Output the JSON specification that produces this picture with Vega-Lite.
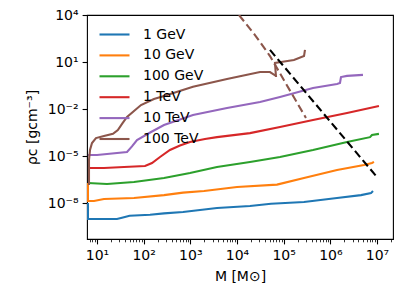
{
  "$schema": "https://vega.github.io/schema/vega-lite/v6.json",
  "width": 306,
  "height": 224,
  "autosize": {"type": "none"},
  "padding": {"left": 87, "top": 15, "right": 15, "bottom": 67},
  "config": {
    "font": "DejaVu Sans",
    "view": {"stroke": "#000000", "strokeWidth": 1.1},
    "axis": {"grid": false, "domain": false, "tickColor": "#000000", "tickWidth": 1.1, "labelColor": "#000000", "titleColor": "#000000", "labelFont": "DejaVu Sans", "titleFont": "DejaVu Sans", "labelFontSize": 14, "titleFontSize": 14, "titleFontWeight": "normal", "labelFlush": false, "labelOverlap": false}
  },
  "datasets": {
    "series": [
      {"s": "1 GeV", "i": 0, "M": 6.41, "rho": 1.0e-8},
      {"s": "1 GeV", "i": 1, "M": 6.41, "rho": 9.5e-10},
      {"s": "1 GeV", "i": 2, "M": 8.63, "rho": 9.5e-10},
      {"s": "1 GeV", "i": 3, "M": 26.8, "rho": 9.6e-10},
      {"s": "1 GeV", "i": 4, "M": 36, "rho": 1.2e-9},
      {"s": "1 GeV", "i": 5, "M": 50, "rho": 1.55e-9},
      {"s": "1 GeV", "i": 6, "M": 137, "rho": 1.8e-9},
      {"s": "1 GeV", "i": 7, "M": 273, "rho": 2.2e-9},
      {"s": "1 GeV", "i": 8, "M": 697, "rho": 2.7e-9},
      {"s": "1 GeV", "i": 9, "M": 3725, "rho": 4.8e-9},
      {"s": "1 GeV", "i": 10, "M": 18970, "rho": 6.4e-9},
      {"s": "1 GeV", "i": 11, "M": 53500, "rho": 9.0e-9},
      {"s": "1 GeV", "i": 12, "M": 272000, "rho": 1.17e-8},
      {"s": "1 GeV", "i": 13, "M": 1390000, "rho": 2.1e-8},
      {"s": "1 GeV", "i": 14, "M": 4540000, "rho": 3.2e-8},
      {"s": "1 GeV", "i": 15, "M": 7430000, "rho": 4.3e-8},
      {"s": "1 GeV", "i": 16, "M": 8200000, "rho": 5.9e-8},

      {"s": "10 GeV", "i": 0, "M": 6.41, "rho": 1.9e-7},
      {"s": "10 GeV", "i": 1, "M": 6.41, "rho": 1.35e-8},
      {"s": "10 GeV", "i": 2, "M": 8.63, "rho": 1.35e-8},
      {"s": "10 GeV", "i": 3, "M": 14.1, "rho": 1.8e-8},
      {"s": "10 GeV", "i": 4, "M": 62, "rho": 2.1e-8},
      {"s": "10 GeV", "i": 5, "M": 273, "rho": 3.2e-8},
      {"s": "10 GeV", "i": 6, "M": 697, "rho": 4.6e-8},
      {"s": "10 GeV", "i": 7, "M": 1963, "rho": 5.9e-8},
      {"s": "10 GeV", "i": 8, "M": 10000, "rho": 1.05e-7},
      {"s": "10 GeV", "i": 9, "M": 71900, "rho": 1.5e-7},
      {"s": "10 GeV", "i": 10, "M": 272000, "rho": 4.0e-7},
      {"s": "10 GeV", "i": 11, "M": 1390000, "rho": 1.3e-6},
      {"s": "10 GeV", "i": 12, "M": 5260000, "rho": 2.7e-6},
      {"s": "10 GeV", "i": 13, "M": 7800000, "rho": 3.6e-6},
      {"s": "10 GeV", "i": 14, "M": 8600000, "rho": 4.2e-6},

      {"s": "100 GeV", "i": 0, "M": 6.41, "rho": 1.9e-7},
      {"s": "100 GeV", "i": 1, "M": 16.4, "rho": 1.65e-7},
      {"s": "100 GeV", "i": 2, "M": 62, "rho": 2.2e-7},
      {"s": "100 GeV", "i": 3, "M": 273, "rho": 4.0e-7},
      {"s": "100 GeV", "i": 4, "M": 984, "rho": 8.3e-7},
      {"s": "100 GeV", "i": 5, "M": 3725, "rho": 2.0e-6},
      {"s": "100 GeV", "i": 6, "M": 18970, "rho": 4.2e-6},
      {"s": "100 GeV", "i": 7, "M": 83400, "rho": 8.7e-6},
      {"s": "100 GeV", "i": 8, "M": 425000, "rho": 2.4e-5},
      {"s": "100 GeV", "i": 9, "M": 2280000, "rho": 7.9e-5},
      {"s": "100 GeV", "i": 10, "M": 7080000, "rho": 1.6e-4},
      {"s": "100 GeV", "i": 11, "M": 7800000, "rho": 2.2e-4},
      {"s": "100 GeV", "i": 12, "M": 11000000, "rho": 2.6e-4},

      {"s": "1 TeV", "i": 0, "M": 6.41, "rho": 1.74e-6},
      {"s": "1 TeV", "i": 1, "M": 14.1, "rho": 1.74e-6},
      {"s": "1 TeV", "i": 2, "M": 37.9, "rho": 2.0e-6},
      {"s": "1 TeV", "i": 3, "M": 107, "rho": 2.31e-6},
      {"s": "1 TeV", "i": 4, "M": 151, "rho": 3.59e-6},
      {"s": "1 TeV", "i": 5, "M": 224, "rho": 8.7e-6},
      {"s": "1 TeV", "i": 6, "M": 366, "rho": 2.43e-5},
      {"s": "1 TeV", "i": 7, "M": 600, "rho": 4.7e-5},
      {"s": "1 TeV", "i": 8, "M": 984, "rho": 7.85e-5},
      {"s": "1 TeV", "i": 9, "M": 2060, "rho": 1.22e-4},
      {"s": "1 TeV", "i": 10, "M": 3725, "rho": 1.6e-4},
      {"s": "1 TeV", "i": 11, "M": 18970, "rho": 2.9e-4},
      {"s": "1 TeV", "i": 12, "M": 83400, "rho": 7.1e-4},
      {"s": "1 TeV", "i": 13, "M": 425000, "rho": 2.0e-3},
      {"s": "1 TeV", "i": 14, "M": 2280000, "rho": 5.6e-3},
      {"s": "1 TeV", "i": 15, "M": 11000000, "rho": 1.55e-2},

      {"s": "10 TeV", "i": 0, "M": 6.41, "rho": 1.17e-5},
      {"s": "10 TeV", "i": 1, "M": 10, "rho": 1.17e-5},
      {"s": "10 TeV", "i": 2, "M": 44, "rho": 1.8e-5},
      {"s": "10 TeV", "i": 3, "M": 56.2, "rho": 4.1e-5},
      {"s": "10 TeV", "i": 4, "M": 72, "rho": 1.05e-4},
      {"s": "10 TeV", "i": 5, "M": 144, "rho": 3.4e-4},
      {"s": "10 TeV", "i": 6, "M": 273, "rho": 9.5e-4},
      {"s": "10 TeV", "i": 7, "M": 1140, "rho": 4.2e-3},
      {"s": "10 TeV", "i": 8, "M": 6110, "rho": 1.15e-2},
      {"s": "10 TeV", "i": 9, "M": 31100, "rho": 2.8e-2},
      {"s": "10 TeV", "i": 10, "M": 83400, "rho": 5.9e-2},
      {"s": "10 TeV", "i": 11, "M": 425000, "rho": 0.22},
      {"s": "10 TeV", "i": 12, "M": 1390000, "rho": 0.40},
      {"s": "10 TeV", "i": 13, "M": 1610000, "rho": 0.46},
      {"s": "10 TeV", "i": 14, "M": 1690000, "rho": 1.1},
      {"s": "10 TeV", "i": 15, "M": 2280000, "rho": 1.3},
      {"s": "10 TeV", "i": 16, "M": 5000000, "rho": 1.5},

      {"s": "100 TeV", "i": 0, "M": 6.74, "rho": 1.4e-7},
      {"s": "100 TeV", "i": 1, "M": 6.74, "rho": 5.6e-6},
      {"s": "100 TeV", "i": 2, "M": 7.08, "rho": 2.4e-5},
      {"s": "100 TeV", "i": 3, "M": 7.82, "rho": 6.8e-5},
      {"s": "100 TeV", "i": 4, "M": 9.5, "rho": 1.4e-4},
      {"s": "100 TeV", "i": 5, "M": 14.1, "rho": 1.9e-4},
      {"s": "100 TeV", "i": 6, "M": 22, "rho": 2.6e-4},
      {"s": "100 TeV", "i": 7, "M": 28, "rho": 4.5e-4},
      {"s": "100 TeV", "i": 8, "M": 35, "rho": 1.2e-3},
      {"s": "100 TeV", "i": 9, "M": 44, "rho": 3.1e-3},
      {"s": "100 TeV", "i": 10, "M": 87.7, "rho": 1.8e-2},
      {"s": "100 TeV", "i": 11, "M": 166, "rho": 4.4e-2},
      {"s": "100 TeV", "i": 12, "M": 273, "rho": 6.8e-2},
      {"s": "100 TeV", "i": 13, "M": 1140, "rho": 0.26},
      {"s": "100 TeV", "i": 14, "M": 6110, "rho": 0.83},
      {"s": "100 TeV", "i": 15, "M": 31100, "rho": 2.3},
      {"s": "100 TeV", "i": 16, "M": 50900, "rho": 2.3},
      {"s": "100 TeV", "i": 17, "M": 68500, "rho": 1.28},
      {"s": "100 TeV", "i": 18, "M": 68500, "rho": 1.1},
      {"s": "100 TeV", "i": 19, "M": 65200, "rho": 8.7},
      {"s": "100 TeV", "i": 20, "M": 87700, "rho": 10},
      {"s": "100 TeV", "i": 21, "M": 166000, "rho": 13.4},
      {"s": "100 TeV", "i": 22, "M": 273000, "rho": 24},
      {"s": "100 TeV", "i": 23, "M": 286000, "rho": 59}
    ],
    "browndash": [
      {"M": 11030, "rho": 10000},
      {"M": 24300, "rho": 525},
      {"M": 50900, "rho": 24},
      {"M": 107000, "rho": 0.52},
      {"M": 300000, "rho": 0.0027}
    ],
    "blackdash": [
      {"M": 50900, "rho": 59},
      {"M": 9500000, "rho": 5.4e-7}
    ],
    "minor": [
      {"M": 7}, {"M": 8}, {"M": 9}
    ]
  },
  "resolve": {"axis": {"x": "independent"}},
  "layer": [
    {
      "data": {"name": "series"},
      "mark": {"type": "line", "strokeWidth": 2.1, "clip": true},
      "encoding": {
        "x": {"field": "M", "type": "quantitative",
          "scale": {"type": "log", "domain": [6.11, 22000000], "nice": false},
          "axis": {"orient": "bottom", "values": [10, 100, 1000, 10000, 100000, 1000000, 10000000], "tickSize": 4.9, "labelPadding": 5,
            "labelExpr": "'10' + ['⁰','¹','²','³','⁴','⁵','⁶','⁷','⁸','⁹'][round(log(datum.value)/LN10)]",
            "title": "M [M⊙]", "titleY": 41, "titleBaseline": "alphabetic"}},
        "y": {"field": "rho", "type": "quantitative",
          "scale": {"type": "log", "domain": [5.07e-11, 10000], "nice": false},
          "axis": {"values": [1e-8, 1e-5, 0.01, 10, 10000], "tickSize": 4.9, "labelPadding": 4,
            "labelExpr": "'10' + (round(log(datum.value)/LN10) < 0 ? '⁻' : '') + ['⁰','¹','²','³','⁴','⁵','⁶','⁷','⁸','⁹'][abs(round(log(datum.value)/LN10))]",
            "title": "ρc [gcm⁻³]", "titleX": -51, "titleBaseline": "alphabetic"}},
        "color": {"field": "s", "type": "nominal",
          "scale": {"domain": ["1 GeV", "10 GeV", "100 GeV", "1 TeV", "10 TeV", "100 TeV"],
            "range": ["#1f77b4", "#ff7f0e", "#2ca02c", "#d62728", "#9467bd", "#8c564b"]},
          "legend": {"orient": "none", "legendX": 16, "legendY": 8, "title": null, "padding": 0,
            "symbolType": "M-1.5,0L1.5,0", "symbolSize": 400, "symbolStrokeWidth": 2.1,
            "labelFontSize": 14, "labelFont": "DejaVu Sans", "labelColor": "#000000", "labelOffset": 17, "rowPadding": 1.9}},
        "order": {"field": "i", "type": "quantitative"}
      }
    },
    {
      "data": {"name": "browndash"},
      "mark": {"type": "line", "color": "#8c564b", "strokeWidth": 2.1, "strokeDash": [8, 4], "clip": true},
      "encoding": {
        "x": {"field": "M", "type": "quantitative", "axis": null},
        "y": {"field": "rho", "type": "quantitative"}
      }
    },
    {
      "data": {"name": "blackdash"},
      "mark": {"type": "line", "color": "#000000", "strokeWidth": 2.1, "strokeDash": [8, 4], "clip": true},
      "encoding": {
        "x": {"field": "M", "type": "quantitative", "axis": null},
        "y": {"field": "rho", "type": "quantitative"}
      }
    },
    {
      "data": {"name": "minor"},
      "mark": {"type": "point", "opacity": 0},
      "encoding": {
        "x": {"field": "M", "type": "quantitative",
          "axis": {"orient": "bottom", "title": null, "labels": false, "tickSize": 2.8, "tickWidth": 0.8,
            "values": [7, 8, 9, 20, 30, 40, 50, 60, 70, 80, 90, 200, 300, 400, 500, 600, 700, 800, 900, 2000, 3000, 4000, 5000, 6000, 7000, 8000, 9000, 20000, 30000, 40000, 50000, 60000, 70000, 80000, 90000, 200000, 300000, 400000, 500000, 600000, 700000, 800000, 900000, 2000000, 3000000, 4000000, 5000000, 6000000, 7000000, 8000000, 9000000, 20000000]}}
      }
    }
  ]
}
